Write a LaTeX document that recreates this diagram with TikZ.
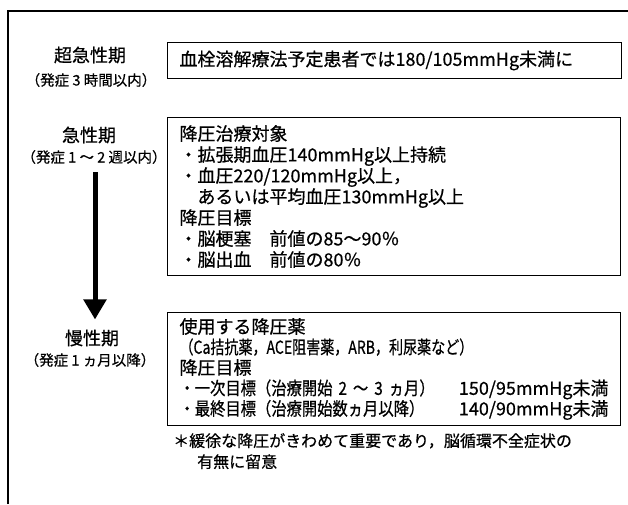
\documentclass[tikz,border=0pt]{standalone}
\usepackage{fontspec}
\usepackage{graphicx}
\setmainfont{Noto Sans CJK JP}[FakeBold=0.6]
\newfontfamily\narrowjp{Noto Sans CJK JP}[FakeStretch=0.85, FakeBold=0.6]
\usetikzlibrary{arrows.meta}

\tikzset{
    stage/.style={font=\fontsize{18}{22}\selectfont, inner sep=2pt},
    stagesub/.style={font=\fontsize{14.5}{18}\selectfont, inner sep=2pt},
    panel/.style={draw, line width=1pt, anchor=north west, align=left,
        inner xsep=12pt, inner ysep=3pt, font=\fontsize{18}{21}\selectfont},
    bigarrow/.style={line width=5pt, -{Triangle[width=22pt,length=20pt]}},
}

\begin{document}
\begin{tikzpicture}[x=1pt,y=-1pt]

\useasboundingbox (0,0) rectangle (628,504);

% Frame (top and left edges)
\draw[line width=1.5pt] (8,504) -- (8,11) -- (628,11);

% Periods
\node[stage] (hyper) at (90,55) {超急性期};
\node[stagesub] (hypersub) at (91,80) {（発症 3 時間以内）};
\node[stage] (acute) at (89,135) {急性期};
\node[stagesub] (acutesub) at (94,157) {（発症 1 ～ 2 週以内）};
\node[stage] (chronic) at (92,338) {慢性期};
\node[stagesub] (chronicsub) at (90,360) {（発症 1 ヵ月以降）};

% Arrow
\draw[bigarrow, shorten <=6pt, shorten >=8pt]
    (acutesub.south -| 95,0) -- (chronic.north -| 95,0);

% Box 1
\node[panel, text width=430pt, minimum height=36pt] (box1) at (167,42)
    {血栓溶解療法予定患者では180/105mmHg未満に};

% Box 2
\node[panel, text width=429pt, minimum height=158pt] (box2) at (167,117) {
    降圧治療対象\\
    ・拡張期血圧140mmHg以上持続\\
    ・血圧220/120mmHg以上，\\
    　あるいは平均血圧130mmHg以上\\
    降圧目標\\
    ・脳梗塞　前値の85～90％\\
    ・脳出血　前値の80％
};

% Box 3
\node[panel, text width=429pt, minimum height=113pt,
    font=\fontsize{18}{20.5}\selectfont] (box3) at (167,312) {
    使用する降圧薬\\
    \scalebox{0.78}[1]{（Ca拮抗薬，ACE阻害薬，ARB，利尿薬など）}\\
    降圧目標\\
    {\narrowjp ・一次目標（治療開始 2 ～ 3 ヵ月）}\hspace{\fill}150/95mmHg未満\\
    {\narrowjp ・最終目標（治療開始数ヵ月以降）}\hspace{\fill}140/90mmHg未満
};

% Note
\node[anchor=north west, align=left, inner sep=0pt,
    font=\fontsize{16}{21}\selectfont] (note) at (173,433)
    {＊緩徐な降圧がきわめて重要であり，脳循環不全症状の\\
    \hspace*{24pt}有無に留意};

\end{tikzpicture}
\end{document}
